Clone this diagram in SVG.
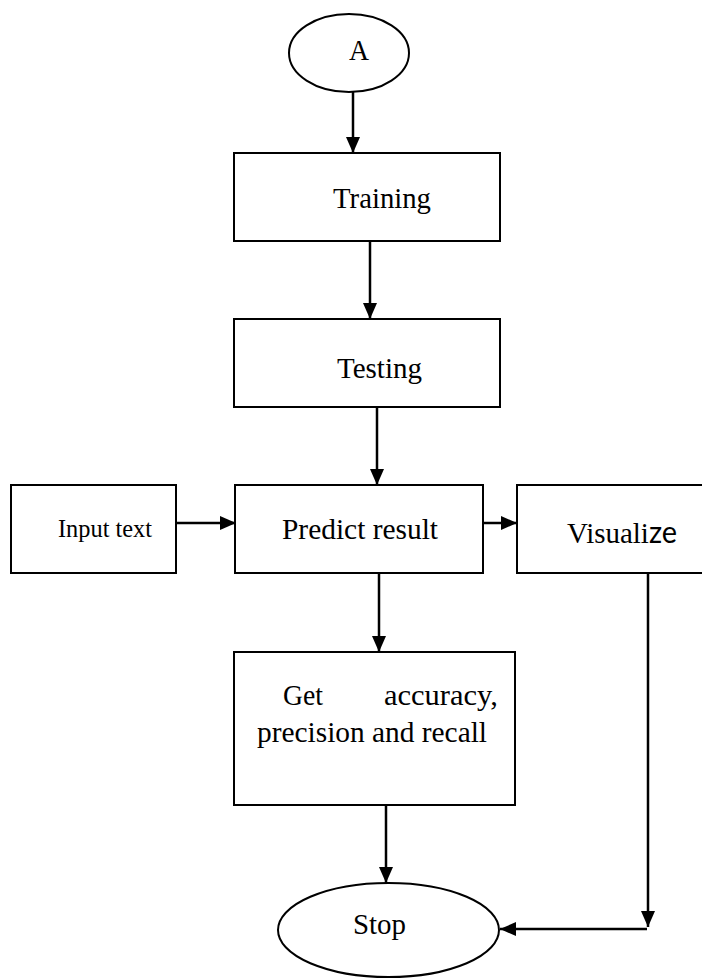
<svg xmlns="http://www.w3.org/2000/svg" width="702" height="979" viewBox="0 0 702 979">
<style>
.shape{fill:#fff;stroke:#000;stroke-width:2}
.lbl{font-family:"Liberation Serif","Times New Roman",serif;font-size:30px;fill:#000}
.conn{fill:none;stroke:#000;stroke-width:2.5}
</style>
<defs>
<marker id="arr" viewBox="0 0 16 14" refX="16" refY="7" markerWidth="16" markerHeight="14" markerUnits="userSpaceOnUse" orient="auto">
<path d="M0,0 L16,7 L0,14 Z" fill="#000"/>
</marker>
</defs>
<rect width="702" height="979" fill="#fff"/>
<g id="connectors">
<line class="conn" x1="353" y1="92" x2="353" y2="153" marker-end="url(#arr)"/>
<line class="conn" x1="370" y1="241" x2="370" y2="319" marker-end="url(#arr)"/>
<line class="conn" x1="377" y1="407" x2="377" y2="485" marker-end="url(#arr)"/>
<line class="conn" x1="176" y1="523" x2="236" y2="523" marker-end="url(#arr)"/>
<line class="conn" x1="483" y1="523" x2="517" y2="523" marker-end="url(#arr)"/>
<line class="conn" x1="379" y1="573" x2="379" y2="652" marker-end="url(#arr)"/>
<line class="conn" x1="386" y1="805" x2="386" y2="883" marker-end="url(#arr)"/>
<line class="conn" x1="648" y1="573" x2="648" y2="927" marker-end="url(#arr)"/>
<line class="conn" x1="647" y1="929" x2="500" y2="929" marker-end="url(#arr)"/>
</g>
<g id="node-a">
<ellipse class="shape" cx="349" cy="53" rx="60" ry="39"/>
<text class="lbl" x="349" y="60" textLength="20" lengthAdjust="spacingAndGlyphs">A</text>
</g>
<g id="node-training">
<rect class="shape" x="234" y="153" width="266" height="88"/>
<text class="lbl" x="333" y="208" textLength="98" lengthAdjust="spacingAndGlyphs">Training</text>
</g>
<g id="node-testing">
<rect class="shape" x="234" y="319" width="266" height="88"/>
<text class="lbl" x="337" y="378" textLength="85" lengthAdjust="spacingAndGlyphs">Testing</text>
</g>
<g id="node-input">
<rect class="shape" x="11" y="485" width="165" height="88"/>
<text class="lbl" x="58" y="537" style="font-size:26px" textLength="94" lengthAdjust="spacingAndGlyphs">Input text</text>
</g>
<g id="node-predict">
<rect class="shape" x="235" y="485" width="248" height="88"/>
<text class="lbl" x="282" y="539" textLength="156" lengthAdjust="spacingAndGlyphs">Predict result</text>
</g>
<g id="node-visualize">
<rect class="shape" x="517" y="485" width="200" height="88"/>
<text class="lbl" x="567" y="543" textLength="110" lengthAdjust="spacingAndGlyphs">Visuali<tspan style="font-family:Lato,'Liberation Sans',sans-serif">ze</tspan></text>
</g>
<g id="node-metrics">
<rect class="shape" x="234" y="652" width="281" height="153"/>
<text class="lbl" x="283" y="705" textLength="40" lengthAdjust="spacingAndGlyphs">Get</text>
<text class="lbl" x="384" y="705" textLength="114" lengthAdjust="spacingAndGlyphs">accuracy,</text>
<text class="lbl" x="257" y="742" textLength="230" lengthAdjust="spacingAndGlyphs">precision and recall</text>
</g>
<g id="node-stop">
<ellipse class="shape" cx="388.5" cy="930" rx="110.5" ry="47"/>
<text class="lbl" x="353" y="934" textLength="53" lengthAdjust="spacingAndGlyphs">Stop</text>
</g>
</svg>
